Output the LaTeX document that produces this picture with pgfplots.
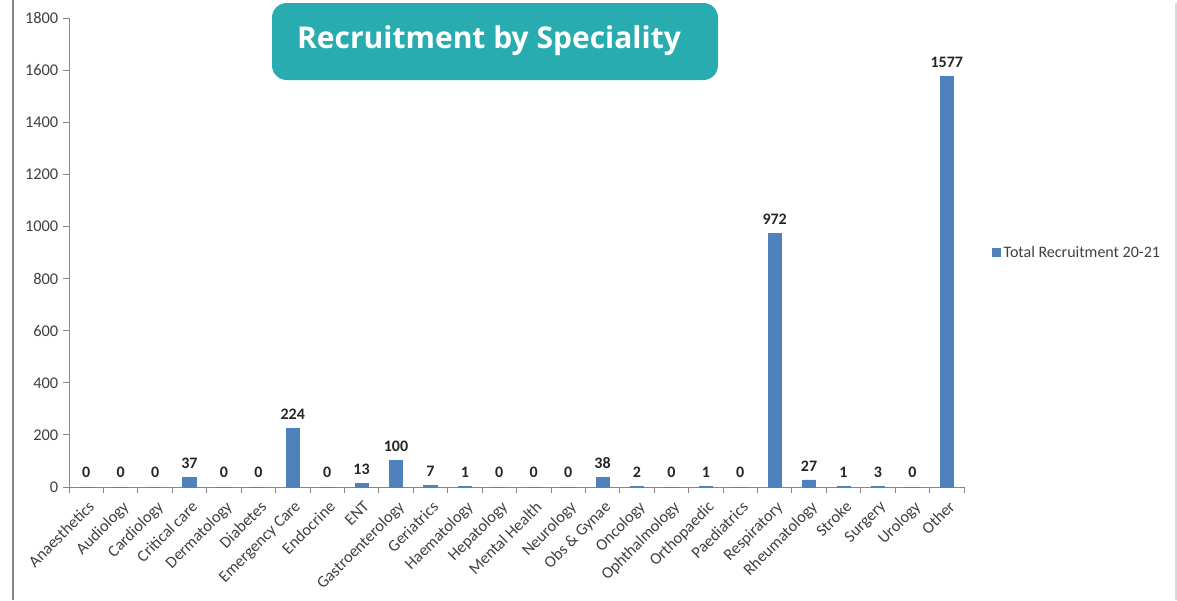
\documentclass[border=0pt]{standalone}
\usepackage{fontspec}
\setmainfont{Carlito}
\newfontfamily\titlefont{Open Sans}
\usepackage{pgfplots}
\pgfplotsset{compat=1.18}
\definecolor{barblue}{RGB}{79,129,189}
\definecolor{teal}{RGB}{41,172,176}
\definecolor{axgray}{RGB}{134,134,134}
\definecolor{txt}{RGB}{64,64,64}
\begin{document}
\begin{tikzpicture}
\begin{scope}[x=0.75pt,y=-0.75pt]
\path[use as bounding box] (0,0) rectangle (1177,600);
\draw[axgray,line width=0.9pt] (13,0) -- (13,600);
\draw[black!15,line width=0.9pt] (1176,3) -- (1176,600);
\fill[teal,rounded corners=11pt] (272,3) rectangle (718,80);
\node[text=white,font=\titlefont\bfseries\fontsize{22.5}{26}\selectfont] at (489,41) {Recruitment by Speciality};
\end{scope}
\begin{axis}[
  at={(51.75pt,-365.25pt)}, anchor=south west,
  scale only axis,
  width=671.25pt, height=351.75pt,
  xmin=-0.5, xmax=25.5, ymin=0, ymax=1800,
  ybar, bar width=9.8pt,
  axis lines*=left,
  axis line style={axgray, line width=0.6pt},
  ytick={0,200,...,1800},
  xtick={0,...,25},
  xticklabels={Anaesthetics,Audiology,Cardiology,Critical care,Dermatology,Diabetes,Emergency Care,Endocrine,ENT,Gastroenterology,Geriatrics,Haematology,Hepatology,Mental Health,Neurology,Obs \& Gynae,Oncology,Ophthalmology,Orthopaedic,Paediatrics,Respiratory,Rheumatology,Stroke,Surgery,Urology,Other},
  minor xtick={-0.5,0.5,...,25.5},
  tick align=outside,
  major x tick style={draw=none},
  minor tick length=4.5pt,
  major tick length=4.5pt,
  tick style={axgray, line width=0.6pt},
  x tick label style={rotate=45, anchor=north east, font=\fontsize{12.3}{14}\selectfont, text=txt, inner sep=1pt, yshift=-3pt, xshift=-2pt},
  y tick label style={font=\fontsize{12.3}{14}\selectfont, text=txt},
  /pgf/number format/assume math mode=true,
  /pgf/number format/1000 sep={},
  nodes near coords,
  nodes near coords style={font=\bfseries\fontsize{12}{14}\selectfont, text=black!85, yshift=3pt},
  legend style={at={(1.03,0.5)}, anchor=west, draw=none, fill=none, font=\fontsize{12}{14}\selectfont, text=txt, inner sep=1pt},
  legend image code/.code={\fill[barblue] (0cm,-0.1cm) rectangle (0.2cm,0.1cm);},
  clip=false,
]
\addplot[fill=barblue, draw=barblue, line width=0.7pt] coordinates {
(0,0) (1,0) (2,0) (3,37) (4,0) (5,0) (6,224) (7,0) (8,13) (9,100) (10,7) (11,1) (12,0) (13,0) (14,0) (15,38) (16,2) (17,0) (18,1) (19,0) (20,972) (21,27) (22,1) (23,3) (24,0) (25,1577)
};
\legend{Total Recruitment 20-21}
\end{axis}
\end{tikzpicture}
\end{document}
